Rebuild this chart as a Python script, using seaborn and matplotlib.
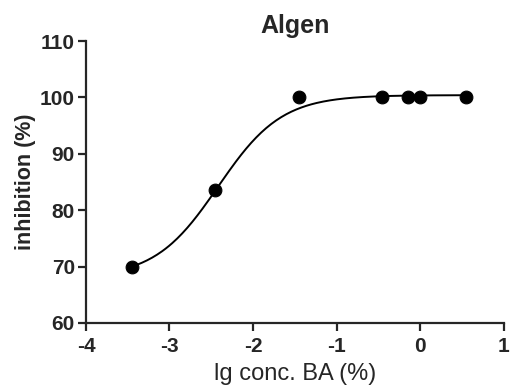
import numpy as np
import pandas as pd
import matplotlib
matplotlib.use('Agg')
import matplotlib.pyplot as plt
import seaborn as sns

# measured points
lg_conc = [-3.45, -2.45, -1.45, -0.45, -0.15, 0.0, 0.55]
inhibition = [70.0, 83.6, 100.0, 100.0, 100.0, 100.0, 100.0]

# 4PL fit parameters (bottom, top, logEC50, hill slope)
fit_bottom = 68.0
fit_top = 100.4
fit_logec50 = -2.417
fit_hill = 1.144

df = pd.DataFrame({'lg': lg_conc, 'inh': inhibition})

x_fit = np.linspace(min(lg_conc), max(lg_conc), 200)
y_fit = fit_bottom + (fit_top - fit_bottom) / (1 + 10 ** ((fit_logec50 - x_fit) * fit_hill))
df_fit = pd.DataFrame({'lg': x_fit, 'inh': y_fit})

sns.set_style('ticks')
plt.rcParams['font.family'] = ['Liberation Sans', 'DejaVu Sans']
plt.rcParams['axes.unicode_minus'] = False

fig = plt.figure(figsize=(5.13, 3.89), dpi=100)
ax = fig.add_axes([0.1676, 0.1697, 0.814, 0.7249])

sns.lineplot(x='lg', y='inh', data=df_fit, color='black', linewidth=1.4, ax=ax)
sns.scatterplot(x='lg', y='inh', data=df, color='black', s=85, edgecolor='black', zorder=3, ax=ax, clip_on=False)

ax.set_xlim(-4, 1)
ax.set_ylim(60, 110)
ax.set_xticks([-4, -3, -2, -1, 0, 1])
ax.set_yticks([60, 70, 80, 90, 100, 110])
sns.despine(ax=ax)
for s in ['left', 'bottom']:
    ax.spines[s].set_linewidth(1.6)
ax.tick_params(width=1.6, length=6, labelsize=15, pad=2)
ax.tick_params(axis='x', pad=4)
for lab in ax.get_xticklabels() + ax.get_yticklabels():
    lab.set_fontweight('bold')

ax.set_title('Algen', fontsize=18, fontweight='bold', pad=6)
ax.set_xlabel('lg conc. BA (%)', fontsize=17, labelpad=5)
ax.set_ylabel('inhibition (%)', fontsize=15.5, fontweight='bold', labelpad=3)

fig.savefig('out.png', dpi=100)
